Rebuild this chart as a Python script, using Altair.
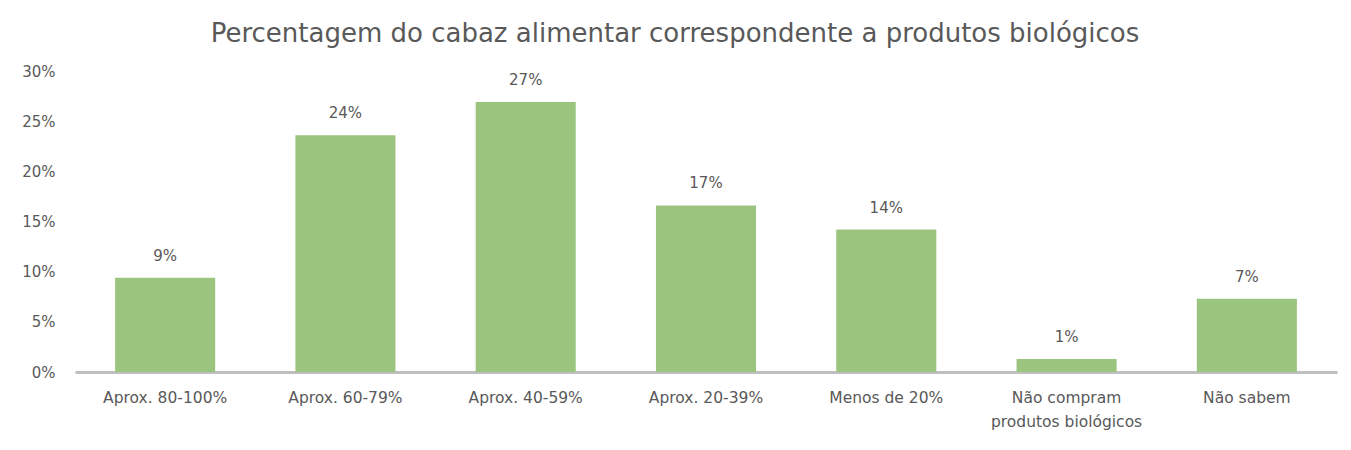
import altair as alt
import pandas as pd

categories = ["Aprox. 80-100%", "Aprox. 60-79%", "Aprox. 40-59%", "Aprox. 20-39%",
              "Menos de 20%", "Não compram produtos biológicos", "Não sabem"]
values = [0.094, 0.236, 0.269, 0.166, 0.142, 0.013, 0.073]
labels = ["9%", "24%", "27%", "17%", "14%", "1%", "7%"]

df = pd.DataFrame({"cat": categories, "val": values, "lab": labels})

FONT = "DejaVu Sans"
GREY = "#595959"

x = alt.X("cat:N", sort=categories, title=None,
          scale=alt.Scale(paddingInner=0.445, paddingOuter=0.2225),
          axis=alt.Axis(labelAngle=0, labelFontSize=15.5, labelColor=GREY, labelFont=FONT,
                        labelPadding=18, ticks=False, domainColor="#bfbfbf", domainWidth=3,
                        labelLineHeight=24,
                        labelExpr="datum.value == 'Não compram produtos biológicos' ? ['Não compram', 'produtos biológicos'] : datum.value"))
y = alt.Y("val:Q", title=None,
          scale=alt.Scale(domain=[0, 0.30]),
          axis=alt.Axis(format=".0%", values=[0, 0.05, 0.1, 0.15, 0.2, 0.25, 0.3],
                        grid=False, domain=False, ticks=False, labelFontSize=15,
                        labelColor=GREY, labelFont=FONT, labelPadding=20))

bars = alt.Chart(df).mark_bar(color="#9bc57e").encode(x=x, y=y)
text = alt.Chart(df).mark_text(dy=-22, fontSize=15, color=GREY, font=FONT).encode(
    x=alt.X("cat:N", sort=categories), y="val:Q", text="lab:N")

chart = (bars + text).properties(
    width=1262, height=301,
    title=alt.TitleParams("Percentagem do cabaz alimentar correspondente a produtos biológicos",
                          fontSize=26, font=FONT, fontWeight="normal", color=GREY,
                          anchor="middle", dx=-31, offset=17),
    padding={"left": 75, "top": 71, "right": 14, "bottom": 78},
    autosize=alt.AutoSizeParams(type="none"),
).configure_view(stroke=None)

chart.save("out.html", embed_options={"renderer": "svg", "actions": False})
